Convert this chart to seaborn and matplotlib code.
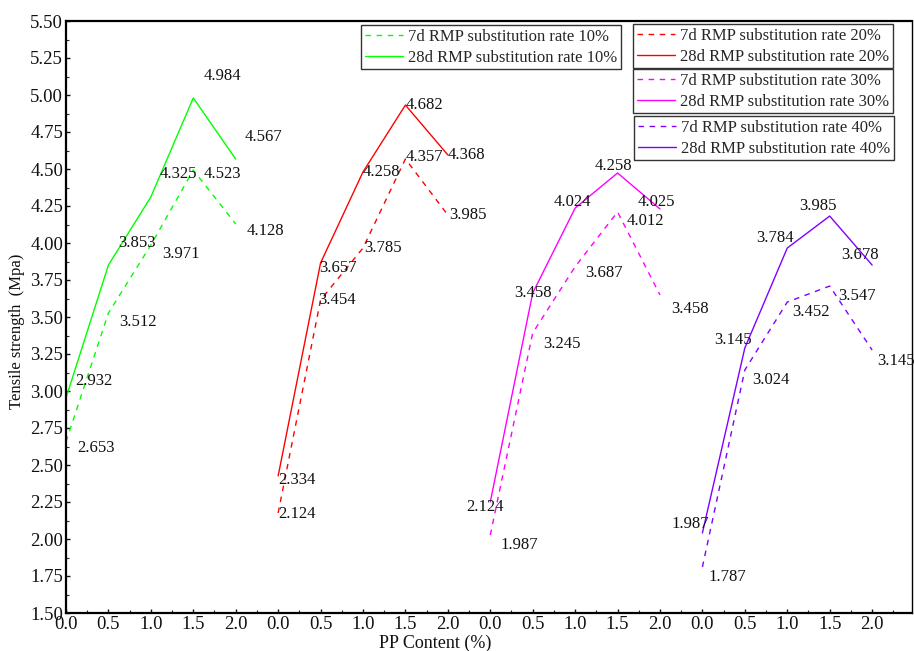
import matplotlib
matplotlib.use("Agg")
import matplotlib.pyplot as plt
from matplotlib.ticker import MultipleLocator
import seaborn as sns
import pandas as pd
import numpy as np

sns.set_theme(style="white")
plt.rcParams['font.family'] = ['Liberation Serif', 'DejaVu Serif']

# PP content (%) and RMP substitution rates
pp = [0.0, 0.5, 1.0, 1.5, 2.0]
rates = ["10%", "20%", "30%", "40%"]
colors = ["#00ff00", "#ff0000", "#ff00ff", "#8000ff"]

# tensile strength (Mpa), as drawn by the lines
s7_10 = [2.657, 3.527, 3.986, 4.493, 4.128]
s28_10 = [2.953, 3.851, 4.311, 4.980, 4.567]
s7_20 = [2.176, 3.615, 3.966, 4.568, 4.189]
s28_20 = [2.426, 3.865, 4.480, 4.932, 4.595]
s7_30 = [2.027, 3.392, 3.840, 4.210, 3.649]
s28_30 = [2.250, 3.662, 4.236, 4.473, 4.230]
s7_40 = [1.811, 3.142, 3.601, 3.709, 3.277]
s28_40 = [2.041, 3.291, 3.966, 4.182, 3.851]

# value labels as printed on the chart
lab7_10 = ["2.653", "3.512", "3.971", "4.523", "4.128"]
lab28_10 = ["2.932", "3.853", "4.325", "4.984", "4.567"]
lab7_20 = ["2.124", "3.454", "3.785", "4.357", "3.985"]
lab28_20 = ["2.334", "3.657", "4.258", "4.682", "4.368"]
lab7_30 = ["1.987", "3.245", "3.687", "4.012", "3.458"]
lab28_30 = ["2.124", "3.458", "4.024", "4.258", "4.025"]
lab7_40 = ["1.787", "3.024", "3.452", "3.547", "3.145"]
lab28_40 = ["1.987", "3.145", "3.784", "3.985", "3.678"]

s7 = [s7_10, s7_20, s7_30, s7_40]
s28 = [s28_10, s28_20, s28_30, s28_40]
lab7 = [lab7_10, lab7_20, lab7_30, lab7_40]
lab28 = [lab28_10, lab28_20, lab28_30, lab28_40]

# label offsets in pixels (dx, dy) from each point
off7 = [[(11, -6), (11, -9), (11, -9), (10, -4), (11, -7)],
        [(0, -1), (-2, 0), (1, 0), (0, 2), (1, 0)],
        [(10, -10), (10, -11), (10, -6), (9, -9), (11, -14)],
        [(6, -10), (7, -10), (5, -10), (8, -10), (5, -11)]]
off28 = [[(9, 17), (10, 22), (9, 23), (10, 22), (9, 22)],
         [(0, -4), (-1, -5), (0, 0), (0, 0), (0, 0)],
         [(-24, -5), (-19, 0), (-22, 6), (-23, 7), (-22, 7)],
         [(-31, 9), (-31, 8), (-31, 10), (-31, 10), (-31, 10)]]

group_shift = 2.5

fig = plt.figure(figsize=(9.14, 6.51), dpi=100)
ax = fig.add_axes([66/914, 1-613/651, 846/914, 592/651])

legend_boxes = [(361, 25), (633, 24), (633, 69), (634, 116)]
dash = (0, (4, 4))

for g in range(4):
    x = [p + g*group_shift for p in pp]
    df = pd.DataFrame({"x": x, "d7": s7[g], "d28": s28[g]})
    sns.lineplot(data=df, x="x", y="d7", ax=ax, color=colors[g], lw=1.0,
                 linestyle=dash, label="7d RMP substitution rate " + rates[g])
    sns.lineplot(data=df, x="x", y="d28", ax=ax, color=colors[g], lw=1.0,
                 label="28d RMP substitution rate " + rates[g])
    for i in range(5):
        ax.annotate(lab7[g][i], (x[i], s7[g][i]), xytext=off7[g][i],
                    textcoords='offset pixels', ha='left', va='center',
                    fontsize=12, color='#111111', annotation_clip=False)
        ax.annotate(lab28[g][i], (x[i], s28[g][i]), xytext=off28[g][i],
                    textcoords='offset pixels', ha='left', va='center',
                    fontsize=12, color='#111111', annotation_clip=False)

handles, labels = ax.get_legend_handles_labels()
ax.get_legend().remove()
for g in range(4):
    bx, by = legend_boxes[g]
    leg = fig.legend(handles[2*g:2*g+2], labels[2*g:2*g+2], loc='upper left',
                     bbox_to_anchor=(bx/914, 1 - by/651), fontsize=12,
                     frameon=True, fancybox=False, framealpha=1,
                     edgecolor='#333333', borderpad=0.22, labelspacing=0.3,
                     handlelength=2.3, handletextpad=0.3, borderaxespad=0)
    leg.get_frame().set_linewidth(1.0)

ax.set_xlim(0, 9.97)
ax.set_ylim(1.5, 5.5)
xt = [p + g*group_shift for g in range(4) for p in pp]
ax.set_xticks(xt)
ax.set_xticklabels([f"{p:.1f}" for g in range(4) for p in pp])
ax.set_yticks(np.arange(1.5, 5.51, 0.25))
ax.set_yticklabels([f"{v:.2f}" for v in np.arange(1.5, 5.51, 0.25)])
ax.yaxis.set_minor_locator(MultipleLocator(0.125))
ax.xaxis.set_minor_locator(MultipleLocator(0.25))
ax.tick_params(axis='both', which='major', direction='in', length=3, width=1,
               labelsize=13.5, pad=2, colors='#111111')
ax.tick_params(axis='both', which='minor', direction='in', length=2, width=0.8)
ax.tick_params(axis='x', which='both', bottom=True)
ax.tick_params(axis='y', which='both', left=True)

for side in ['left', 'bottom', 'top']:
    ax.spines[side].set_linewidth(1.6)
    ax.spines[side].set_color('black')
ax.spines['right'].set_linewidth(1.0)
ax.spines['right'].set_color('black')

ax.set_xlabel("PP Content (%)", fontsize=13, color='#111111')
ax.xaxis.set_label_coords(0.436, -0.036)
ax.xaxis.label.set_va('top')
ax.set_ylabel("Tensile strength  (Mpa)", fontsize=12, color='#111111')
ax.yaxis.set_label_coords(-0.048, 0.475)

fig.savefig("out.png", dpi=100)
